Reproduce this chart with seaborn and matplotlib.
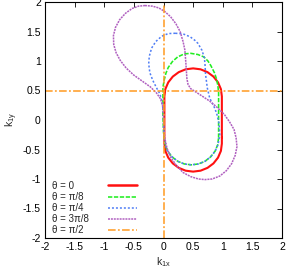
import numpy as np
import pandas as pd
import matplotlib
matplotlib.use("Agg")
import matplotlib.pyplot as plt
import seaborn as sns
from matplotlib.lines import Line2D

# ---- data ----
t0_x = [0.985, 0.985, 0.969, 0.92, 0.843, 0.743, 0.626, 0.50, 0.374, 0.257, 0.157, 0.08,
        0.031, 0.015, 0.015, 0.031, 0.08, 0.157, 0.257, 0.374, 0.50, 0.626, 0.743, 0.843,
        0.92, 0.969, 0.985, 0.985]
t0_y = [-0.30, 0.40, 0.523, 0.638, 0.736, 0.811, 0.859, 0.875, 0.859, 0.811, 0.736, 0.638,
        0.523, 0.40, -0.40, -0.523, -0.638, -0.736, -0.811, -0.859, -0.875, -0.859, -0.811, -0.736,
        -0.638, -0.523, -0.40, -0.30]

t1_x = [0.93, 0.93, 0.92, 0.90, 0.86, 0.80, 0.75, 0.68, 0.58, 0.46, 0.35, 0.24, 0.15,
        0.08, 0.04, 0.01, -0.01, -0.01, -0.01, 0.00, 0.01, 0.03, 0.07, 0.145, 0.24, 0.35,
        0.47, 0.59, 0.70, 0.795, 0.87, 0.915, 0.93]
t1_y = [-0.30, 0.46, 0.56, 0.68, 0.80, 0.92, 1.00, 1.07, 1.11, 1.13, 1.12, 1.07, 0.99,
        0.89, 0.79, 0.67, 0.55, 0.40, 0.10, -0.20, -0.30, -0.42, -0.53, -0.625, -0.70, -0.745,
        -0.76, -0.745, -0.70, -0.625, -0.53, -0.42, -0.30]

t2_x = [0.20, 0.08, -0.03, -0.13, -0.20, -0.24, -0.25, -0.23, -0.18, -0.12, -0.06, -0.025,
        -0.005, 0.00, 0.01, 0.03, 0.07, 0.145, 0.24, 0.35, 0.47, 0.59, 0.70, 0.795, 0.87,
        0.92, 0.95, 0.94, 0.93, 0.90, 0.865, 0.78, 0.74, 0.71, 0.70, 0.69, 0.65, 0.58, 0.53,
        0.45, 0.33, 0.20]
t2_y = [1.47, 1.465, 1.42, 1.33, 1.22, 1.08, 0.95, 0.80, 0.67, 0.55, 0.44, 0.32,
        0.15, -0.10, -0.30, -0.42, -0.53, -0.625, -0.70, -0.745, -0.76, -0.745, -0.70, -0.625, -0.53,
        -0.42, -0.25, -0.10, -0.02, 0.10, 0.20, 0.37, 0.54, 0.77, 0.95, 1.05, 1.18, 1.30, 1.35,
        1.41, 1.46, 1.47]

t3_x = [-0.31, -0.42, -0.53, -0.64, -0.74, -0.81, -0.845, -0.84, -0.80, -0.73, -0.63, -0.50,
        -0.36, -0.22, -0.12, -0.05, -0.015, 0.00, 0.005, 0.02, 0.06, 0.12, 0.21, 0.33, 0.46,
        0.59, 0.70, 0.82, 0.95, 1.06, 1.15, 1.21, 1.24, 1.225, 1.19, 1.12, 1.03, 0.91, 0.78,
        0.66, 0.53, 0.46, 0.415, 0.395, 0.385, 0.375, 0.36, 0.33, 0.28, 0.21, 0.12, 0.02,
        -0.08, -0.19, -0.31]
t3_y = [1.94, 1.93, 1.89, 1.81, 1.70, 1.57, 1.43, 1.28, 1.14, 1.01, 0.88, 0.76,
        0.66, 0.56, 0.46, 0.36, 0.24, 0.10, -0.10, -0.30, -0.48, -0.63, -0.76, -0.89, -0.96,
        -1.00, -1.01, -1.00, -0.95, -0.86, -0.74, -0.60, -0.45, -0.30, -0.16, -0.04, 0.09, 0.21, 0.32,
        0.40, 0.485, 0.53, 0.60, 0.70, 0.85, 1.00, 1.19, 1.33, 1.50, 1.63, 1.75, 1.84,
        1.90, 1.93, 1.94]

t4_vx = [0.0, 0.0]
t4_vy = [-2.0, 2.0]
t4_hx = [-2.0, 2.0]
t4_hy = [0.5, 0.5]

labels = ["θ = 0", "θ = π/8", "θ = π/4", "θ = 3π/8", "θ = π/2"]
ticks = [-2, -1.5, -1, -0.5, 0, 0.5, 1, 1.5, 2]
tick_labels = ["-2", "-1.5", "-1", "-0.5", "0", "0.5", "1", "1.5", "2"]

# ---- styling ----
sns.set_theme(style="white")
plt.rcParams["font.family"] = ["Liberation Sans", "DejaVu Sans"]
plt.rcParams["mathtext.fontset"] = "custom"
plt.rcParams["mathtext.rm"] = "Liberation Sans"
plt.rcParams["mathtext.it"] = "Liberation Sans"

colors = ["#ff1010", "#22ee22", "#4f7df5", "#b060c0", "#ff9a20"]
styles = ["-", (0, (2.7, 1.0)), (0, (1.3, 1.3)), (0, (1.3, 0.6)), (0, (5, 1.5, 1.2, 1.5))]
widths = [1.5, 1.15, 1.1, 1.1, 1.1]

fig = plt.figure(figsize=(2.91, 2.71), dpi=100)
ax = fig.add_axes([45 / 291, 33 / 271, 237 / 291, 236 / 271])

curves = [(t0_x, t0_y), (t1_x, t1_y), (t2_x, t2_y), (t3_x, t3_y)]
for i, (xs, ys) in enumerate(curves):
    df = pd.DataFrame({"x": xs, "y": ys})
    sns.lineplot(data=df, x="x", y="y", sort=False, estimator=None, ax=ax,
                 color=colors[i], linestyle=styles[i], linewidth=widths[i])
for xs, ys in [(t4_vx, t4_vy), (t4_hx, t4_hy)]:
    df = pd.DataFrame({"x": xs, "y": ys})
    sns.lineplot(data=df, x="x", y="y", sort=False, estimator=None, ax=ax,
                 color=colors[4], linestyle=styles[4], linewidth=widths[4])

ax.set_xlim(-2, 2)
ax.set_ylim(-2, 2)
ax.set_xticks(ticks)
ax.set_xticklabels(tick_labels)
ax.set_yticks(ticks)
ax.set_yticklabels(tick_labels)
ax.tick_params(direction="in", length=3.5, width=0.6, top=True, right=True,
               labelsize=7.5, pad=3, colors="black")
for s in ax.spines.values():
    s.set_color("black")
    s.set_linewidth(0.8)
ax.set_xlabel(r"k$_{\mathrm{1x}}$", fontsize=7.5, labelpad=2)
ax.set_ylabel(r"k$_{\mathrm{1y}}$", fontsize=7.5, labelpad=2)

# legend: labels left-aligned, samples aligned on the right
handles = [Line2D([], [], color=colors[i], linestyle=styles[i], linewidth=widths[i] + 0.3 * (i == 0))
           for i in range(5)]
blank = [Line2D([], [], color="none") for _ in range(5)]
leg_kw = dict(loc="lower left", frameon=False, fontsize=7, labelspacing=0.12,
              borderaxespad=0.3)
leg1 = ax.legend(blank, labels, bbox_to_anchor=(0.001, -0.018),
                 handlelength=0, handletextpad=0, **leg_kw)
ax.add_artist(leg1)
ax.legend(handles, [""] * 5, bbox_to_anchor=(0.237, -0.018),
          handlelength=3.0, handletextpad=0, **leg_kw)

fig.savefig("out.png", dpi=100)
